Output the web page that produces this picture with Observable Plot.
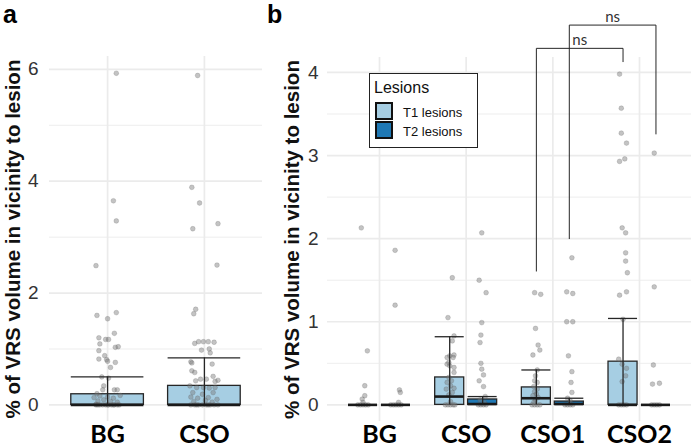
<!DOCTYPE html>
<html>
<head>
<meta charset="utf-8">
<script src="https://cdn.jsdelivr.net/npm/d3@7"></script>
<script src="https://cdn.jsdelivr.net/npm/@observablehq/plot@0.6"></script>
<style>
  html, body { margin: 0; padding: 0; background: #fff; }
  #wrap { position: relative; width: 693px; height: 448px; overflow: hidden; font-family: "Liberation Sans", Arial, sans-serif; }
  #panelA { position: absolute; left: 0; top: 0; }
  #panelB { position: absolute; left: 265px; top: 0; }
  .plabel { position: absolute; top: 0; font-weight: bold; font-size: 25px; line-height: normal; color: #000; }
  #legend { position: absolute; left: 369px; top: 73px; width: 107px; height: 73px; border: 1.2px solid #222; background: #fff; }
  #legend .ttl { position: absolute; left: 4px; top: 5px; font-size: 16px; line-height: 18px; color: #111; }
  #legend .key { position: absolute; left: 5px; width: 14px; height: 14px; border: 2px solid #111; }
  #legend .lab { position: absolute; left: 33px; font-size: 13px; line-height: 15px; color: #111; }
</style>
</head>
<body>
<div id="wrap">
  <div id="panelA"></div>
  <div id="panelB"></div>
  <div class="plabel" style="left:3px;">a</div>
  <div class="plabel" style="left:267px;">b</div>
  <div id="legend"></div>
</div>
<script>
// ---------------- data ----------------
const yTitle = "% of VRS volume in vicinity to lesion";

// panel a
const groupsA = ["BG", "CSO"];
const q3A = [0.19, 0.34];
const medianA = [0, 0];
const whiskerA = [0.50, 0.84];
// [value, horizontal jitter in category units]
const ptsA_BG = [[5.93,0.09],[3.65,0.06],[3.29,0.09],[2.49,-0.12],[1.60,-0.11],[1.54,0],[1.65,0.09],
  [1.20,-0.09],[1.17,-0.02],[1.17,0.01],[1.28,0.07],[1.09,-0.08],[0.97,-0.09],[1.03,0.08],[1.04,0.11],
  [0.82,-0.09],[0.88,-0.03],[0.81,-0.01],[0.78,0.0],[0.76,0.08],[0.67,0.03],[0.50,-0.06],[0.48,0.01],
  [0.34,-0.04],[0.27,-0.05],[0.27,0.07],[0.27,0.10],[0.20,-0.11],[0.16,-0.08],[0.13,-0.14],[0.14,0],
  [0.12,0.06],[0.17,0.13],[0.07,-0.10],[0.09,-0.04],[0.06,0.03],[0.05,0.10],[0.01,-0.12],
  [0,-0.12],[0,-0.08],[0,-0.05],[0,-0.02],[0,0.01],[0,0.04],[0,0.07],[0,0.10],[0,0.12],[0,-0.10],[0,0.0],[0,0.06]];
const ptsA_CSO = [[5.89,-0.07],[3.89,-0.13],[3.61,-0.05],[3.15,-0.12],[3.24,0.14],[2.50,0.13],[1.71,-0.09],
  [1.63,-0.11],[1.10,-0.10],[1.13,-0.06],[1.13,-0.01],[1.13,0.04],[1.12,0.10],[0.98,-0.03],[1.00,0.05],
  [0.93,0.06],[0.77,-0.14],[0.75,-0.13],[0.73,0.08],[0.61,-0.13],[0.58,-0.10],[0.51,0.09],[0.43,-0.09],
  [0.46,-0.04],[0.46,0.02],[0.44,0.14],[0.42,0.11],[0.34,-0.15],[0.31,-0.08],[0.31,-0.01],[0.30,0.05],
  [0.31,0.11],[0.22,-0.12],[0.19,-0.02],[0.22,0.09],[0.14,-0.14],[0.12,-0.07],[0.13,0.04],[0.10,0.13],
  [0.06,-0.11],[0.08,0.01],[0.05,0.08],
  [0,-0.14],[0,-0.10],[0,-0.06],[0,-0.02],[0,0.02],[0,0.06],[0,0.10],[0,0.14],[0,-0.08],[0,0.04]];

// panel b
const groupsB = ["BG", "CSO", "CSO1", "CSO2"];
const lesionTypes = ["T1 lesions", "T2 lesions"];
const lesionColors = ["#a6cee3", "#1f78b4"];
const q3T1 = [0, 0.33, 0.21, 0.52];
const medianT1 = [0, 0.10, 0.08, 0];
const whiskerT1 = [0, 0.82, 0.42, 1.04];
const q3T2 = [0, 0.065, 0.04, 0];
const medianT2 = [0, 0.01, 0.01, 0];
const whiskerT2 = [0, 0.10, 0.08, 0];

const ptsT1_BG = [[2.13,-0.02],[0.65,0.05],[0.23,0.02],[0.11,0.02],[0.07,-0.01],[0.03,0],
  [0,-0.06],[0,-0.03],[0,0],[0,0.03],[0,0.06]];
const ptsT2_BG = [[1.86,-0.01],[1.20,-0.01],[0.18,0.04],[0.15,0.05],[0.03,0.03],
  [0,-0.06],[0,-0.03],[0,0],[0,0.03],[0,0.06]];
const ptsT1_CSO = [[1.53,0.03],[1.05,-0.02],[0.83,0.05],[0.77,0.03],[0.59,0],[0.60,0.05],[0.57,-0.03],
  [0.57,0.04],[0.51,-0.01],[0.49,-0.03],[0.47,0],[0.45,0.05],[0.39,0.05],[0.33,-0.01],[0.29,0.02],
  [0.27,-0.03],[0.23,0.01],[0.20,0.05],[0.19,-0.04],[0.15,0.03],[0.12,-0.01],[0.04,0.01],
  [0,-0.05],[0,-0.02],[0,0.01],[0,0.04],[0,0.06]];
const ptsT2_CSO = [[2.07,-0.01],[1.50,-0.04],[1.35,0.04],[0.99,-0.01],[0.84,-0.02],[0.75,-0.03],
  [0.50,-0.02],[0.43,-0.01],[0.36,0.01],[0.29,-0.04],[0.22,0.01],[0.10,0.03],[0.06,-0.03],[0.03,0.02],
  [0,-0.05],[0,-0.02],[0,0.01],[0,0.04]];
const ptsT1_CSO1 = [[1.35,-0.02],[1.33,0.05],[0.92,-0.01],[0.72,0.02],[0.66,0.04],[0.60,-0.04],
  [0.42,0.01],[0.35,-0.01],[0.29,-0.02],[0.27,0.01],[0.22,-0.03],[0.19,0.01],[0.16,-0.02],[0.13,0],
  [0.11,-0.04],[0.09,0.02],[0.06,-0.01],[0.03,-0.03],
  [0,-0.05],[0,-0.02],[0,0.01],[0,0.04]];
const ptsT2_CSO1 = [[1.77,0.03],[1.36,-0.03],[1.34,0.04],[1.00,-0.03],[1.00,0.04],[0.59,-0.01],
  [0.40,0.03],[0.27,0.02],[0.15,0.03],[0.08,-0.02],[0.05,0.01],
  [0,-0.05],[0,-0.02],[0,0.01],[0,0.04]];
const ptsT1_CSO2 = [[3.98,-0.04],[3.57,-0.02],[3.27,-0.02],[3.15,0.04],[2.96,0.02],[2.93,-0.04],
  [2.13,-0.01],[2.07,0.03],[1.83,0.03],[1.73,0.03],[1.59,0.05],[1.36,0.04],[1.32,-0.04],[1.03,0],
  [0.55,-0.05],[0.49,-0.01],[0.44,0.04],[0.35,0.03],[0.28,-0.01],
  [0,-0.05],[0,-0.02],[0,0.01],[0,0.04]];
const ptsT2_CSO2 = [[3.03,-0.02],[1.42,-0.02],[0.48,-0.03],[0.25,-0.04],[0.26,0.04],
  [0,-0.05],[0,-0.02],[0,0.01],[0,0.04]];

// significance brackets (panel b)
const bracketFrom = ["CSO1", "CSO1"];
const bracketTo = ["CSO2", "CSO2"];
const bracketSeries = [0, 1];
const bracketTop = [4.29, 4.57];
const bracketFromEnd = [1.61, 2.00];
const bracketToEnd = [4.13, 3.26];
const bracketLabel = ["ns", "ns"];

// ---------------- styling ----------------
const gridCol = "#ebebeb";
const lineCol = "#262626";
const ptFill = "#7a7a7a";
const tickFont = "'Liberation Sans', Arial, sans-serif";
const catFont = "Lato, 'Liberation Sans', sans-serif";
const boxWidthA = 0.75;
const boxWidthB = 0.335;
const dodge = 0.19;

function boxMarks(boxes, w) {
  const withWh = boxes.filter(d => d.wh > 0);
  return [
    Plot.rect(boxes, {x1: d => d.x - w / 2, x2: d => d.x + w / 2, y1: d => 0, y2: "q3",
      fill: "fill", stroke: lineCol, strokeWidth: 1.3}),
    Plot.dot(boxes.flatMap(d => d.pts.map(p => ({x: d.x + p[1], y: p[0]}))),
      {x: "x", y: "y", r: 2.4, fill: ptFill, fillOpacity: 0.45, stroke: "#555", strokeOpacity: 0.25, strokeWidth: 0.8}),
    Plot.ruleX(withWh, {x: "x", y1: d => 0, y2: "wh", stroke: lineCol, strokeWidth: 1.3}),
    Plot.ruleY(withWh, {y: "wh", x1: d => d.x - w / 2, x2: d => d.x + w / 2, stroke: lineCol, strokeWidth: 1.3}),
    Plot.ruleY(boxes, {y: "med", x1: d => d.x - w / 2, x2: d => d.x + w / 2, stroke: "#1a1a1a", strokeWidth: 2.6})
  ];
}

function titleMark(dx) {
  return Plot.text([yTitle], {text: d => d, frameAnchor: "left", textAnchor: "middle", rotate: -90, dx,
    fontSize: 20.5, fontWeight: "bold", fill: "#111", fontFamily: tickFont});
}

// ---------------- panel a ----------------
const boxesA = groupsA.map((g, i) => ({x: i + 1, q3: q3A[i], med: medianA[i], wh: whiskerA[i],
  fill: lesionColors[0], pts: [ptsA_BG, ptsA_CSO][i]}));

const plotA = Plot.plot({
  width: 265, height: 448,
  marginLeft: 49, marginRight: 3, marginTop: 56, marginBottom: 27,
  x: {domain: [0.4, 2.6], axis: null},
  y: {domain: [-0.297, 6.23], axis: null},
  style: {background: "transparent", fontFamily: tickFont},
  marks: [
    Plot.gridY([1, 3, 5], {stroke: gridCol, strokeOpacity: 1, strokeWidth: 0.9}),
    Plot.gridY([0, 2, 4, 6], {stroke: gridCol, strokeOpacity: 1, strokeWidth: 1.7}),
    Plot.gridX([1, 2], {stroke: gridCol, strokeOpacity: 1, strokeWidth: 1.7}),
    Plot.axisY([0, 2, 4, 6], {tickSize: 0, tickPadding: 11, tickFormat: d => String(d), fontSize: 19, fill: "#333", label: null}),
    Plot.axisX([1, 2], {tickSize: 0, tickPadding: 4, tickFormat: v => groupsA[v - 1], fontSize: 25,
      fontWeight: "bold", fill: "#000", fontFamily: catFont, label: null}),
    ...boxMarks(boxesA, boxWidthA),
    titleMark(-36)
  ]
});
document.getElementById("panelA").appendChild(plotA);

// ---------------- panel b ----------------
const q3B = [q3T1, q3T2], medB = [medianT1, medianT2], whB = [whiskerT1, whiskerT2];
const ptsB = [[ptsT1_BG, ptsT1_CSO, ptsT1_CSO1, ptsT1_CSO2], [ptsT2_BG, ptsT2_CSO, ptsT2_CSO1, ptsT2_CSO2]];
const boxesB = [];
lesionTypes.forEach((t, s) => groupsB.forEach((g, i) => boxesB.push({
  x: i + 1 + (s === 0 ? -dodge : dodge), q3: q3B[s][i], med: medB[s][i], wh: whB[s][i],
  fill: lesionColors[s], pts: ptsB[s][i]
})));
const xOf = (g, s) => groupsB.indexOf(g) + 1 + (s === 0 ? -dodge : dodge);
const brackets = bracketFrom.map((g, k) => {
  const xa = xOf(g, bracketSeries[k]), xb = xOf(bracketTo[k], bracketSeries[k]);
  return {k, xa, xb, top: bracketTop[k], path: [
    {x: xa, y: bracketFromEnd[k]}, {x: xa, y: bracketTop[k]}, {x: xb, y: bracketTop[k]}, {x: xb, y: bracketToEnd[k]}
  ], label: bracketLabel[k]};
});

const plotB = Plot.plot({
  width: 428, height: 448,
  marginLeft: 62, marginRight: 2, marginTop: 57, marginBottom: 27,
  x: {domain: [0.4, 4.6], axis: null},
  y: {domain: [-0.2, 4.18], axis: null},
  style: {background: "transparent", fontFamily: tickFont},
  marks: [
    Plot.gridY([0.5, 1.5, 2.5, 3.5], {stroke: gridCol, strokeOpacity: 1, strokeWidth: 0.9}),
    Plot.gridY([0, 1, 2, 3, 4], {stroke: gridCol, strokeOpacity: 1, strokeWidth: 1.7}),
    Plot.gridX([1, 2, 3, 4], {stroke: gridCol, strokeOpacity: 1, strokeWidth: 1.7}),
    Plot.axisY([0, 1, 2, 3, 4], {tickSize: 0, tickPadding: 9, tickFormat: d => String(d), fontSize: 19, fill: "#333", label: null}),
    Plot.axisX([1, 2, 3, 4], {tickSize: 0, tickPadding: 4, tickFormat: v => groupsB[v - 1], fontSize: 25,
      fontWeight: "bold", fill: "#000", fontFamily: catFont, label: null}),
    ...boxMarks(boxesB, boxWidthB),
    ...brackets.map(b => Plot.line(b.path, {x: "x", y: "y", stroke: lineCol, strokeWidth: 1})),
    Plot.text(brackets, {x: d => (d.xa + d.xb) / 2, y: "top", text: "label", lineAnchor: "bottom", dy: -3,
      fontSize: 15, fill: "#333", fontFamily: catFont}),
    titleMark(-35)
  ]
});
document.getElementById("panelB").appendChild(plotB);

// ---------------- legend ----------------
const leg = document.getElementById("legend");
leg.innerHTML = `<div class="ttl">Lesions</div>` + lesionTypes.map((t, s) =>
  `<div class="key" style="top:${28 + s * 19}px;background:${lesionColors[s]}"></div>` +
  `<div class="lab" style="top:${31 + s * 19}px">${t}</div>`).join("");
</script>
</body>
</html>
